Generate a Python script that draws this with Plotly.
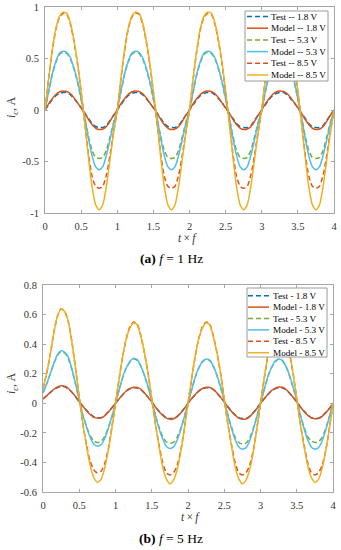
import plotly.graph_objects as go

# ---------------- data ----------------
t_f = [i / 20 for i in range(81)]  # t x f sampling grid 0..4

x_ticks = [0, 0.5, 1, 1.5, 2, 2.5, 3, 3.5, 4]
x_ticktext = ["0", "0.5", "1", "1.5", "2", "2.5", "3", "3.5", "4"]
y1_ticks = [-1, -0.5, 0, 0.5, 1]
y1_ticktext = ["-1", "-0.5", "0", "0.5", "1"]
y2_ticks = [-0.6, -0.4, -0.2, 0, 0.2, 0.4, 0.6, 0.8]
y2_ticktext = ["-0.6", "-0.4", "-0.2", "0", "0.2", "0.4", "0.6", "0.8"]

names_a = ["Test -- 1.8 V", "Model -- 1.8 V", "Test -- 5.3 V", "Model -- 5.3 V", "Test -- 8.5 V", "Model -- 8.5 V"]
names_b = ["Test - 1.8 V", "Model - 1.8 V", "Test - 5.3 V", "Model - 5.3 V", "Test - 8.5 V", "Model - 8.5 V"]
colors = ["#0072BD", "#D95319", "#77AC30", "#4DBEEE", "#E0531C", "#EDB120"]
is_test = [True, False, True, False, True, False]

# (a) f = 1 Hz
test_18_a = [0.00, 0.05, 0.10, 0.14, 0.16, 0.17, 0.17, 0.15, 0.11, 0.07, 0.02, -0.03, -0.08, -0.13, -0.16, -0.17, -0.17, -0.15, -0.10, -0.05,
             0.00, 0.05, 0.10, 0.14, 0.16, 0.17, 0.17, 0.15, 0.11, 0.07, 0.02, -0.03, -0.08, -0.13, -0.16, -0.17, -0.17, -0.15, -0.10, -0.05,
             0.00, 0.05, 0.10, 0.14, 0.16, 0.17, 0.17, 0.15, 0.11, 0.07, 0.02, -0.03, -0.08, -0.13, -0.16, -0.17, -0.17, -0.15, -0.10, -0.05,
             0.00, 0.05, 0.10, 0.14, 0.16, 0.17, 0.17, 0.15, 0.11, 0.07, 0.02, -0.03, -0.08, -0.13, -0.16, -0.17, -0.17, -0.15, -0.10, -0.05,
             0.00]
model_18_a = [0.00, 0.06, 0.11, 0.15, 0.175, 0.185, 0.18, 0.16, 0.12, 0.07, 0.02, -0.03, -0.09, -0.14, -0.175, -0.19, -0.185, -0.16, -0.11, -0.05,
              0.00, 0.06, 0.11, 0.15, 0.175, 0.185, 0.18, 0.16, 0.12, 0.07, 0.02, -0.03, -0.09, -0.14, -0.175, -0.19, -0.185, -0.16, -0.11, -0.05,
              0.00, 0.06, 0.11, 0.15, 0.175, 0.185, 0.18, 0.16, 0.12, 0.07, 0.02, -0.03, -0.09, -0.14, -0.175, -0.19, -0.185, -0.16, -0.11, -0.05,
              0.00, 0.06, 0.11, 0.15, 0.175, 0.185, 0.18, 0.16, 0.12, 0.07, 0.02, -0.03, -0.09, -0.14, -0.175, -0.19, -0.185, -0.16, -0.11, -0.05,
              0.00]
test_53_a = [0.00, 0.17, 0.34, 0.46, 0.54, 0.56, 0.55, 0.50, 0.40, 0.27, 0.10, -0.07, -0.25, -0.39, -0.46, -0.47, -0.46, -0.39, -0.26, -0.12,
             0.00, 0.17, 0.34, 0.46, 0.54, 0.56, 0.55, 0.50, 0.40, 0.27, 0.10, -0.07, -0.25, -0.39, -0.46, -0.47, -0.46, -0.39, -0.26, -0.12,
             0.00, 0.17, 0.34, 0.46, 0.54, 0.56, 0.55, 0.50, 0.40, 0.27, 0.10, -0.07, -0.25, -0.39, -0.46, -0.47, -0.46, -0.39, -0.26, -0.12,
             0.00, 0.17, 0.34, 0.46, 0.54, 0.56, 0.55, 0.50, 0.40, 0.27, 0.10, -0.07, -0.25, -0.39, -0.46, -0.47, -0.46, -0.39, -0.26, -0.12,
             0.00]
model_53_a = [0.00, 0.18, 0.35, 0.47, 0.55, 0.57, 0.56, 0.51, 0.41, 0.28, 0.11, -0.07, -0.27, -0.44, -0.55, -0.58, -0.55, -0.44, -0.29, -0.13,
              0.00, 0.18, 0.35, 0.47, 0.55, 0.57, 0.56, 0.51, 0.41, 0.28, 0.11, -0.07, -0.27, -0.44, -0.55, -0.58, -0.55, -0.44, -0.29, -0.13,
              0.00, 0.18, 0.35, 0.47, 0.55, 0.57, 0.56, 0.51, 0.41, 0.28, 0.11, -0.07, -0.27, -0.44, -0.55, -0.58, -0.55, -0.44, -0.29, -0.13,
              0.00, 0.18, 0.35, 0.47, 0.55, 0.57, 0.56, 0.51, 0.41, 0.28, 0.11, -0.07, -0.27, -0.44, -0.55, -0.58, -0.55, -0.44, -0.29, -0.13,
              0.00]
test_85_a = [0.00, 0.30, 0.57, 0.78, 0.90, 0.94, 0.93, 0.84, 0.67, 0.45, 0.17, -0.12, -0.42, -0.64, -0.74, -0.76, -0.74, -0.63, -0.44, -0.21,
             0.00, 0.30, 0.57, 0.78, 0.90, 0.94, 0.93, 0.84, 0.67, 0.45, 0.17, -0.12, -0.42, -0.64, -0.74, -0.76, -0.74, -0.63, -0.44, -0.21,
             0.00, 0.30, 0.57, 0.78, 0.90, 0.94, 0.93, 0.84, 0.67, 0.45, 0.17, -0.12, -0.42, -0.64, -0.74, -0.76, -0.74, -0.63, -0.44, -0.21,
             0.00, 0.30, 0.57, 0.78, 0.90, 0.94, 0.93, 0.84, 0.67, 0.45, 0.17, -0.12, -0.42, -0.64, -0.74, -0.76, -0.74, -0.63, -0.44, -0.21,
             0.00]
model_85_a = [0.00, 0.30, 0.58, 0.79, 0.91, 0.95, 0.94, 0.85, 0.68, 0.46, 0.18, -0.12, -0.45, -0.74, -0.92, -0.97, -0.92, -0.74, -0.48, -0.22,
              0.00, 0.30, 0.58, 0.79, 0.91, 0.95, 0.94, 0.85, 0.68, 0.46, 0.18, -0.12, -0.45, -0.74, -0.92, -0.97, -0.92, -0.74, -0.48, -0.22,
              0.00, 0.30, 0.58, 0.79, 0.91, 0.95, 0.94, 0.85, 0.68, 0.46, 0.18, -0.12, -0.45, -0.74, -0.92, -0.97, -0.92, -0.74, -0.48, -0.22,
              0.00, 0.30, 0.58, 0.79, 0.91, 0.95, 0.94, 0.85, 0.68, 0.46, 0.18, -0.12, -0.45, -0.74, -0.92, -0.97, -0.92, -0.74, -0.48, -0.22,
              0.00]

# (b) f = 5 Hz
test_18_b = [0.03, 0.05, 0.072, 0.093, 0.107, 0.113, 0.112, 0.098, 0.073, 0.044, 0.01, -0.02, -0.048, -0.072, -0.09, -0.097, -0.097, -0.083, -0.058, -0.03,
             0.00, 0.03, 0.058, 0.083, 0.098, 0.105, 0.104, 0.093, 0.068, 0.04, 0.01, -0.024, -0.053, -0.078, -0.097, -0.103, -0.102, -0.088, -0.063, -0.034,
             0.00, 0.03, 0.058, 0.083, 0.098, 0.105, 0.104, 0.093, 0.068, 0.04, 0.01, -0.024, -0.053, -0.078, -0.097, -0.103, -0.102, -0.088, -0.063, -0.034,
             0.00, 0.03, 0.058, 0.083, 0.098, 0.105, 0.104, 0.093, 0.068, 0.04, 0.01, -0.024, -0.053, -0.078, -0.097, -0.102, -0.101, -0.087, -0.062, -0.034,
             -0.005]
model_18_b = [0.03, 0.05, 0.075, 0.095, 0.11, 0.118, 0.115, 0.10, 0.075, 0.045, 0.01, -0.02, -0.05, -0.075, -0.095, -0.10, -0.10, -0.085, -0.06, -0.03,
              0.00, 0.03, 0.06, 0.085, 0.10, 0.108, 0.107, 0.095, 0.07, 0.04, 0.01, -0.025, -0.055, -0.08, -0.10, -0.107, -0.105, -0.09, -0.065, -0.035,
              0.00, 0.03, 0.06, 0.085, 0.10, 0.108, 0.107, 0.095, 0.07, 0.04, 0.01, -0.025, -0.055, -0.08, -0.10, -0.108, -0.106, -0.09, -0.065, -0.035,
              0.00, 0.03, 0.06, 0.085, 0.10, 0.11, 0.108, 0.095, 0.07, 0.04, 0.01, -0.025, -0.055, -0.08, -0.098, -0.104, -0.102, -0.088, -0.064, -0.035,
              -0.005]
test_53_b = [0.07, 0.13, 0.20, 0.27, 0.325, 0.35, 0.34, 0.30, 0.225, 0.125, 0.02, -0.08, -0.155, -0.22, -0.255, -0.265, -0.26, -0.225, -0.165, -0.09,
             0.00, 0.09, 0.175, 0.24, 0.28, 0.30, 0.29, 0.25, 0.185, 0.105, 0.02, -0.08, -0.16, -0.225, -0.26, -0.27, -0.265, -0.23, -0.17, -0.09,
             0.00, 0.09, 0.175, 0.24, 0.28, 0.30, 0.29, 0.25, 0.185, 0.105, 0.02, -0.08, -0.16, -0.23, -0.265, -0.275, -0.27, -0.235, -0.17, -0.09,
             0.00, 0.09, 0.175, 0.24, 0.28, 0.30, 0.29, 0.25, 0.185, 0.105, 0.02, -0.08, -0.16, -0.225, -0.255, -0.265, -0.26, -0.23, -0.17, -0.09,
             0.00]
model_53_b = [0.07, 0.13, 0.20, 0.27, 0.33, 0.355, 0.345, 0.31, 0.23, 0.13, 0.02, -0.08, -0.16, -0.23, -0.275, -0.29, -0.28, -0.24, -0.17, -0.09,
              0.00, 0.09, 0.18, 0.24, 0.285, 0.305, 0.295, 0.25, 0.19, 0.11, 0.02, -0.08, -0.17, -0.24, -0.29, -0.305, -0.295, -0.25, -0.18, -0.09,
              0.00, 0.09, 0.18, 0.24, 0.285, 0.30, 0.29, 0.25, 0.19, 0.11, 0.02, -0.08, -0.17, -0.245, -0.295, -0.31, -0.30, -0.255, -0.18, -0.09,
              0.00, 0.09, 0.18, 0.24, 0.285, 0.30, 0.29, 0.25, 0.19, 0.11, 0.02, -0.08, -0.17, -0.245, -0.295, -0.31, -0.30, -0.255, -0.18, -0.09,
              0.00]
test_85_b = [0.10, 0.20, 0.33, 0.48, 0.59, 0.64, 0.62, 0.55, 0.41, 0.23, 0.04, -0.14, -0.28, -0.39, -0.45, -0.47, -0.46, -0.41, -0.31, -0.16,
             0.00, 0.165, 0.32, 0.44, 0.52, 0.55, 0.535, 0.455, 0.34, 0.20, 0.03, -0.14, -0.28, -0.40, -0.47, -0.485, -0.47, -0.42, -0.32, -0.17,
             0.00, 0.165, 0.32, 0.44, 0.52, 0.55, 0.535, 0.455, 0.34, 0.20, 0.03, -0.14, -0.28, -0.40, -0.47, -0.485, -0.47, -0.42, -0.32, -0.17,
             0.00, 0.165, 0.32, 0.44, 0.51, 0.545, 0.53, 0.45, 0.34, 0.20, 0.03, -0.14, -0.28, -0.40, -0.47, -0.485, -0.47, -0.42, -0.32, -0.17,
             0.00]
model_85_b = [0.10, 0.20, 0.33, 0.48, 0.59, 0.64, 0.62, 0.55, 0.41, 0.23, 0.04, -0.14, -0.29, -0.42, -0.50, -0.535, -0.515, -0.44, -0.32, -0.17,
              0.00, 0.165, 0.32, 0.44, 0.51, 0.545, 0.53, 0.45, 0.34, 0.20, 0.03, -0.14, -0.29, -0.43, -0.51, -0.545, -0.52, -0.45, -0.33, -0.17,
              0.00, 0.165, 0.32, 0.44, 0.51, 0.545, 0.53, 0.45, 0.34, 0.20, 0.03, -0.14, -0.29, -0.43, -0.51, -0.545, -0.52, -0.45, -0.33, -0.17,
              0.00, 0.165, 0.32, 0.44, 0.51, 0.545, 0.53, 0.45, 0.34, 0.20, 0.03, -0.14, -0.29, -0.42, -0.50, -0.535, -0.515, -0.44, -0.32, -0.17,
              0.00]

series_a = [test_18_a, model_18_a, test_53_a, model_53_a, test_85_a, model_85_a]
series_b = [test_18_b, model_18_b, test_53_b, model_53_b, test_85_b, model_85_b]

# ---------------- figure ----------------
W, H = 341, 550
FONT = "Liberation Serif"
AX = "#333333"
DASH = "5px,3px"


def px_x(p):
    return p / W


def px_y(p):
    return 1 - p / H


fig = go.Figure()
for vals, name, col, tst in zip(series_a, names_a, colors, is_test):
    fig.add_trace(go.Scatter(x=t_f, y=vals, mode="lines", name=name, xaxis="x", yaxis="y",
                             line=dict(color=col, width=1.5, dash=DASH if tst else "solid", shape="spline", smoothing=0.6),
                             showlegend=False))
for vals, name, col, tst in zip(series_b, names_b, colors, is_test):
    fig.add_trace(go.Scatter(x=t_f, y=vals, mode="lines", name=name, xaxis="x2", yaxis="y2",
                             line=dict(color=col, width=1.5, dash=DASH if tst else "solid", shape="spline", smoothing=0.6),
                             showlegend=False))

axis_common = dict(showline=True, linecolor="#a6a6a6", linewidth=1, mirror="ticks", ticks="inside",
                   ticklen=3, tickcolor="#a6a6a6", tickwidth=1, showgrid=False, zeroline=False,
                   automargin=False,
                   tickfont=dict(family=FONT, size=10.5, color=AX), ticklabelstandoff=3)

fig.update_layout(
    width=W, height=H, margin=dict(l=0, r=0, t=0, b=0, autoexpand=False),
    paper_bgcolor="white", plot_bgcolor="white", showlegend=False,
    xaxis=dict(domain=[px_x(45), px_x(334)], range=[0, 4], tickvals=x_ticks, ticktext=x_ticktext,
               anchor="y", **axis_common),
    yaxis=dict(domain=[px_y(213), px_y(7)], range=[-1, 1], tickvals=y1_ticks, ticktext=y1_ticktext,
               anchor="x", **axis_common),
    xaxis2=dict(domain=[px_x(43), px_x(333)], range=[0, 4], tickvals=x_ticks, ticktext=x_ticktext,
                anchor="y2", **axis_common),
    yaxis2=dict(domain=[px_y(492), px_y(285)], range=[-0.6, 0.8], tickvals=y2_ticks, ticktext=y2_ticktext,
                anchor="x2", **axis_common),
)

annotations = []
shapes = []

# axis titles and captions
for yc, xc_t, yc_t, cap_y, cap in [(108, 188, 238, 258, "<b>(a)</b> <i>f</i> = 1 Hz"),
                                     (384, 191, 517, 538, "<b>(b)</b> <i>f</i> = 5 Hz")]:
    annotations.append(dict(text="<i>i</i><sub><i>c</i></sub>, A", x=px_x(12), y=px_y(yc), xref="paper", yref="paper",
                            textangle=-90, showarrow=False, xanchor="center", yanchor="middle",
                            font=dict(family=FONT, size=12, color=AX)))
    annotations.append(dict(text="<i>t</i>\u2009×\u2009<i>f</i>", x=px_x(xc_t), y=px_y(yc_t), xref="paper", yref="paper",
                            showarrow=False, xanchor="center", yanchor="middle",
                            font=dict(family=FONT, size=11.5, color=AX)))
    annotations.append(dict(text=cap, x=px_x(171), y=px_y(cap_y), xref="paper", yref="paper",
                            showarrow=False, xanchor="center", yanchor="middle",
                            font=dict(family=FONT, size=13.5, color="black")))

# manual legends (compact MATLAB-style)
for box, row0, dy, lx0, lx1, tx, names in [((245, 11, 328, 81), 16.5, 11.7, 247, 268, 269, names_a),
                                            ((247, 288, 327, 357), 295.7, 11.4, 248, 269, 270.5, names_b)]:
    shapes.append(dict(type="rect", xref="paper", yref="paper", x0=px_x(box[0]), y0=px_y(box[3]),
                       x1=px_x(box[2]), y1=px_y(box[1]), line=dict(color="#9a9a9a", width=1), fillcolor="white"))
    for i, (name, col, tst) in enumerate(zip(names, colors, is_test)):
        yy = px_y(row0 + dy * i)
        shapes.append(dict(type="line", xref="paper", yref="paper", x0=px_x(lx0), x1=px_x(lx1), y0=yy, y1=yy,
                           line=dict(color=col, width=1.5, dash=DASH if tst else "solid")))
        annotations.append(dict(text=name, x=px_x(tx), y=yy, xref="paper", yref="paper", showarrow=False,
                                xanchor="left", yanchor="middle", font=dict(family=FONT, size=9.2, color="black")))

fig.update_layout(annotations=annotations, shapes=shapes)
fig.write_html("out.html", config={"displayModeBar": False},
               post_script="document.body.style.margin='0px';document.body.style.overflow='hidden';")
